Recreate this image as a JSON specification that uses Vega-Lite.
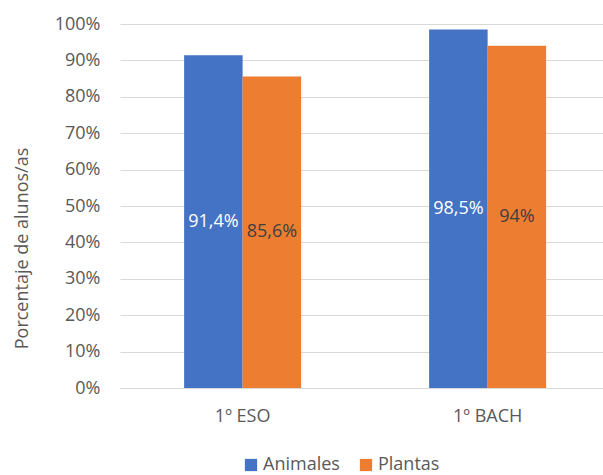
{
  "$schema": "https://vega.github.io/schema/vega-lite/v6.json",
  "width": 483,
  "height": 364,
  "autosize": {"type": "none"},
  "padding": {"left": 120, "top": 24, "right": 0, "bottom": 87},
  "background": "white",
  "config": {
    "view": {"stroke": null},
    "font": "Open Sans",
    "axis": {"labelFont": "Open Sans", "titleFont": "Open Sans", "labelColor": "#595959", "titleColor": "#595959", "titleFontWeight": "normal"},
    "legend": {"labelFont": "Open Sans"}
  },
  "data": {
    "values": [
      {"curso": "1º ESO", "grupo": "Animales", "valor": 0.914, "etiqueta": "91,4%"},
      {"curso": "1º ESO", "grupo": "Plantas", "valor": 0.856, "etiqueta": "85,6%"},
      {"curso": "1º BACH", "grupo": "Animales", "valor": 0.985, "etiqueta": "98,5%"},
      {"curso": "1º BACH", "grupo": "Plantas", "valor": 0.94, "etiqueta": "94%"}
    ]
  },
  "encoding": {
    "x": {
      "field": "curso", "type": "nominal", "sort": ["1º ESO", "1º BACH"],
      "scale": {"paddingInner": 0.5224, "paddingOuter": 0.2469, "align": 0.53},
      "axis": {"title": null, "labelAngle": 0, "ticks": false, "domainColor": "#d9d9d9", "domainWidth": 1, "labelFontSize": 18, "labelPadding": 19}
    },
    "xOffset": {"field": "grupo", "type": "nominal", "sort": ["Animales", "Plantas"], "scale": {"paddingInner": 0, "paddingOuter": 0}}
  },
  "layer": [
    {
      "mark": {"type": "bar"},
      "encoding": {
        "y": {
          "field": "valor", "type": "quantitative",
          "scale": {"domain": [0, 1], "nice": false},
          "axis": {"title": "Porcentaje de alunos/as", "format": ".0%", "values": [0, 0.1, 0.2, 0.3, 0.4, 0.5, 0.6, 0.7, 0.8, 0.9, 1], "labelOverlap": false, "domain": false, "ticks": false, "gridColor": "#d9d9d9", "gridWidth": 1, "labelFontSize": 18, "labelPadding": 20, "titleFontSize": 18, "titlePadding": 23, "titleY": 224}
        },
        "color": {
          "field": "grupo", "type": "nominal", "sort": ["Animales", "Plantas"],
          "scale": {"domain": ["Animales", "Plantas"], "range": ["#4472C4", "#ED7D31"]},
          "legend": {"title": null, "orient": "none", "direction": "horizontal", "legendX": 122, "legendY": 432, "symbolType": "square", "symbolSize": 150, "symbolStrokeWidth": 0, "labelFontSize": 18, "labelColor": "#595959", "columnPadding": 17, "labelOffset": 3}
        }
      }
    },
    {
      "mark": {"type": "text", "fontSize": 18, "baseline": "middle", "align": "center"},
      "encoding": {
        "y": {"field": "valor", "type": "quantitative", "scale": {"domain": [0, 2], "nice": false}, "axis": null},
        "text": {"field": "etiqueta"},
        "color": {
          "field": "grupo", "type": "nominal",
          "scale": {"domain": ["Animales", "Plantas"], "range": ["#FFFFFF", "#404040"]},
          "legend": null
        }
      }
    }
  ],
  "resolve": {"scale": {"color": "independent", "y": "independent"}}
}
